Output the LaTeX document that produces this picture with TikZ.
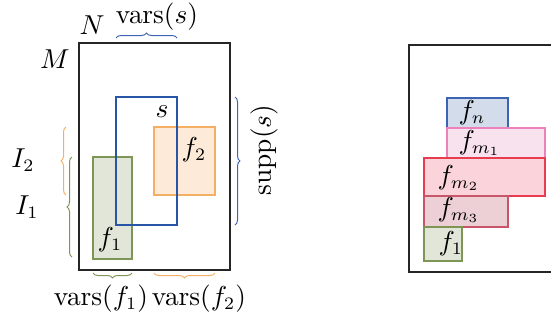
\documentclass[tikz,border=0pt]{standalone}
\usetikzlibrary{decorations.pathreplacing}
\definecolor{sblue}{RGB}{40,85,165}
\definecolor{bbrace}{RGB}{60,100,180}
\definecolor{fnfill}{RGB}{210,220,235}
\definecolor{fndraw}{RGB}{60,100,180}
\definecolor{maonefill}{RGB}{248,226,238}
\definecolor{maonedraw}{RGB}{235,130,185}
\definecolor{matwofill}{RGB}{250,212,218}
\definecolor{matwodraw}{RGB}{232,60,80}
\definecolor{mathreefill}{RGB}{237,208,214}
\definecolor{mathreedraw}{RGB}{200,85,105}
\definecolor{gfill}{RGB}{226,230,216}
\definecolor{gdraw}{RGB}{125,150,85}
\definecolor{ofill}{RGB}{253,234,216}
\definecolor{odraw}{RGB}{245,175,100}
\begin{document}
\begin{tikzpicture}[x=0.4pt,y=-0.4pt,
  font=\fontsize{10.6}{12.7}\selectfont,
  frame/.style={draw=black!85,line width=0.5pt},
  thinrect/.style={line width=0.45pt},
  br/.style={decorate,decoration={brace,amplitude=2pt},line width=0.4pt},
  lbl/.style={inner sep=0pt}]
\clip (0,0) rectangle (551,321);
% left panel
\draw[frame] (79,43) rectangle (230,270);
\filldraw[thinrect,fill=gfill,draw=gdraw] (93,157) rectangle (132,259);
\filldraw[thinrect,fill=ofill,draw=odraw] (154,127) rectangle (215,195);
\draw[sblue,line width=0.9pt] (116,97) rectangle (177,225);
\node[lbl] (N) at (92,25) {$N$};
\node[lbl] (M) at (55,59) {$M$};
\node[lbl] (s) at (162,112) {$s$};
\node[lbl] (ftwo) at (194,150) {$f_2$};
\node[lbl] (fone) at (110,240) {$f_1$};
\node[lbl] (I2) at (23,160) {$I_2$};
\node[lbl] (I1) at (27,207) {$I_1$};
\node[lbl] (varss) at (157,17) {$\mathrm{vars}(s)$};
\node[lbl,rotate=90] (supps) at (264,150) {$\mathrm{supp}(s)$};
\node[lbl] (varsf1) at (101,299) {$\mathrm{vars}(f_1)$};
\node[lbl] (varsf2) at (199,299) {$\mathrm{vars}(f_2)$};
\coordinate (tbA) at (116,38); \coordinate (tbB) at (177,38);
\draw[br,bbrace] (tbA) -- (tbB);
\coordinate (rbA) at (235,97); \coordinate (rbB) at (235,225);
\draw[br,bbrace] (rbA) -- (rbB);
\coordinate (obA) at (66,195); \coordinate (obB) at (66,127);
\draw[br,odraw] (obA) -- (obB);
\coordinate (gbA) at (72,257); \coordinate (gbB) at (72,157);
\draw[br,gdraw] (gbA) -- (gbB);
\coordinate (bgA) at (132,273); \coordinate (bgB) at (93,273);
\draw[br,gdraw] (bgA) -- (bgB);
\coordinate (boA) at (215,273); \coordinate (boB) at (154,273);
\draw[br,odraw] (boA) -- (boB);
% right panel
\draw[frame] (409,45) rectangle (570,272);
\filldraw[thinrect,fill=fnfill,draw=fndraw] (447,98) rectangle (508,128);
\filldraw[thinrect,fill=maonefill,draw=maonedraw] (447,128) rectangle (545,158);
\filldraw[thinrect,fill=matwofill,draw=matwodraw] (424,158) rectangle (545,196);
\filldraw[thinrect,fill=mathreefill,draw=mathreedraw] (424,196) rectangle (508,227);
\filldraw[thinrect,fill=gfill,draw=gdraw] (424,227) rectangle (462,261);
\node[lbl,anchor=west] (fn) at (458,113) {$f_n$};
\node[lbl,anchor=west] (fm1) at (458,143) {$f_{m_1}$};
\node[lbl,anchor=west] (fm2) at (437,178) {$f_{m_2}$};
\node[lbl,anchor=west] (fm3) at (437,210) {$f_{m_3}$};
\node[lbl,anchor=west] (fr1) at (438,244) {$f_1$};
\end{tikzpicture}
\end{document}
